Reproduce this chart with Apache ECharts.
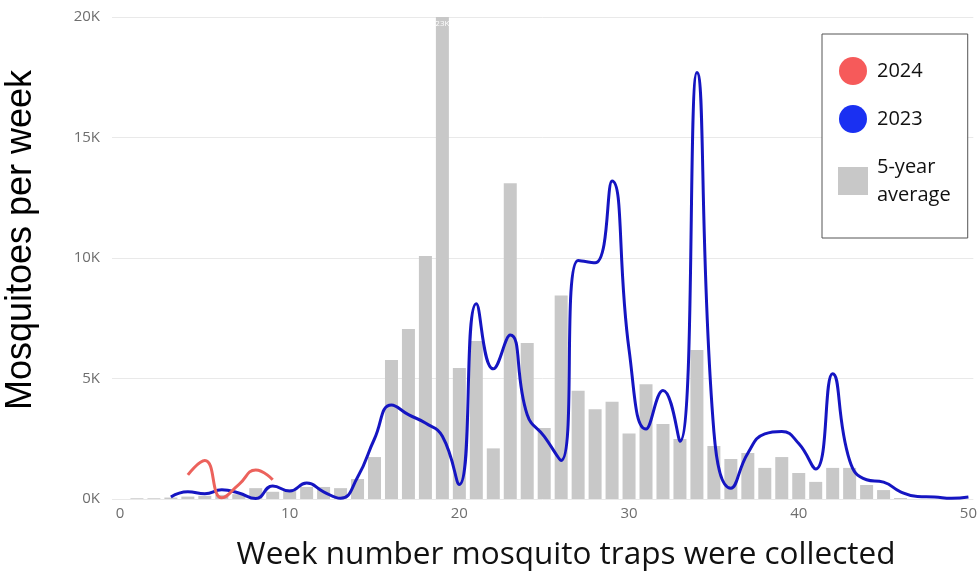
<!DOCTYPE html>
<html>
<head>
<meta charset="utf-8">
<script src="https://cdn.jsdelivr.net/npm/echarts@6/dist/echarts.min.js"></script>
<style>
  html, body { margin: 0; padding: 0; background: #fff; }
  #chart { width: 980px; height: 575px; }
</style>
</head>
<body>
<div id="chart"></div>
<script>
// ---- data ----
const avgWeeks = [1,2,3,4,5,6,7,8,9,10,11,12,13,14,15,16,17,18,19,20,21,22,23,24,25,26,27,28,29,30,31,32,33,34,35,36,37,38,39,40,41,42,43,44,45,46];
const avgValues = [30,30,60,100,130,170,200,450,300,400,500,500,450,830,1740,5770,7050,10080,23000,5440,6560,2100,13100,6470,2950,8440,4490,3720,4040,2720,4760,3110,2490,6180,2200,1660,1910,1290,1740,1080,710,1290,1290,580,370,40];

const weeks2023 = [3,4,5,6,7,8,9,10,11,12,13,14,15,16,17,18,19,20,21,22,23,24,25,26,27,28,29,30,31,32,33,34,35,36,37,38,39,40,41,42,43,44,45,46,47,48,49,50];
const values2023 = [80,300,220,380,250,20,540,330,660,300,30,900,2500,3900,3500,3150,2600,600,8100,5400,6800,3500,2600,1600,9900,9800,13200,6200,2900,4500,2400,17700,2800,450,1900,2700,2800,2300,1250,5200,1600,800,700,300,100,80,30,80];

const weeks2024 = [4,5,6,7,8,9];
const values2024 = [1000,1600,50,600,1200,800];

const yTicks = [0, 5000, 10000, 15000, 20000];
const xTicks = [0, 10, 20, 30, 40, 50];

const Y_MAX = 20000;
const AVG_NAME = '5-year average';

const chart = echarts.init(document.getElementById('chart'), null, { renderer: 'canvas' });

const avgData = avgWeeks.map((w, i) => {
  const v = avgValues[i];
  const item = { value: [w, v] };
  if (v > Y_MAX) {
    item.label = {
      show: true, position: 'insideTop', distance: 3,
      formatter: Math.round(v / 1000) + 'K',
      color: '#ffffff', fontSize: 8, fontFamily: 'Open Sans'
    };
  }
  return item;
});

const option = {
  animation: false,
  backgroundColor: '#ffffff',
  grid: { left: 112, right: 0, top: 17, bottom: 76, containLabel: false },
  xAxis: {
    type: 'value',
    min: -0.47,
    max: 50.29,
    splitNumber: 5,
    axisLine: { show: false },
    axisTick: { show: false },
    splitLine: { show: false },
    axisLabel: {
      color: '#6e6e6e', fontSize: 15, fontFamily: 'Open Sans', margin: 7,
      showMinLabel: false, showMaxLabel: false,
      formatter: v => (xTicks.indexOf(v) >= 0 ? String(v) : '')
    }
  },
  yAxis: {
    type: 'value',
    min: yTicks[0],
    max: yTicks[yTicks.length - 1],
    interval: yTicks[1] - yTicks[0],
    axisLine: { show: false },
    axisTick: { show: false },
    splitLine: { lineStyle: { color: '#e9e9e9', width: 1 } },
    axisLabel: {
      color: '#6e6e6e', fontSize: 15, fontFamily: 'Open Sans', margin: 12,
      formatter: v => (v / 1000) + 'K'
    }
  },
  legend: {
    orient: 'vertical',
    left: 822, top: 34,
    padding: [23, 17, 29, 16],
    itemWidth: 30, itemHeight: 28, itemGap: 20,
    borderColor: '#555555', borderWidth: 1,
    backgroundColor: '#ffffff',
    selectedMode: false,
    textStyle: { fontFamily: 'Open Sans', fontSize: 20, color: '#111111', lineHeight: 28, padding: [0, 0, 0, 4] },
    formatter: n => (n === AVG_NAME ? '5-year\naverage' : n),
    data: [
      { name: '2024', icon: 'circle', itemStyle: { color: '#f65a5a' } },
      { name: '2023', icon: 'circle', itemStyle: { color: '#1a30f2' } },
      { name: AVG_NAME, icon: 'rect', itemStyle: { color: '#c8c8c8' } }
    ]
  },
  graphic: [
    {
      type: 'text', x: 21, y: 240, rotation: Math.PI / 2,
      style: {
        text: 'Mosquitoes per week',
        font: '36px "Liberation Sans", Arial, sans-serif',
        align: 'center', verticalAlign: 'middle', fill: '#000000'
      }
    },
    {
      type: 'text', x: 566, y: 555,
      style: {
        text: 'Week number mosquito traps were collected',
        font: '31.5px "Open Sans", sans-serif',
        align: 'center', verticalAlign: 'middle', fill: '#111111'
      }
    }
  ],
  series: [
    {
      name: AVG_NAME,
      type: 'bar',
      barWidth: 13,
      itemStyle: { color: '#c8c8c8' },
      z: 1,
      data: avgData
    },
    {
      name: '2023',
      type: 'line',
      smooth: 0.5,
      showSymbol: false,
      lineStyle: { color: '#1515c2', width: 3 },
      itemStyle: { color: '#1515c2' },
      z: 3,
      data: weeks2023.map((w, i) => [w, values2023[i]])
    },
    {
      name: '2024',
      type: 'line',
      smooth: 0.5,
      showSymbol: false,
      lineStyle: { color: '#ec625c', width: 3 },
      itemStyle: { color: '#ec625c' },
      z: 4,
      data: weeks2024.map((w, i) => [w, values2024[i]])
    }
  ]
};

chart.setOption(option);
</script>
</body>
</html>
